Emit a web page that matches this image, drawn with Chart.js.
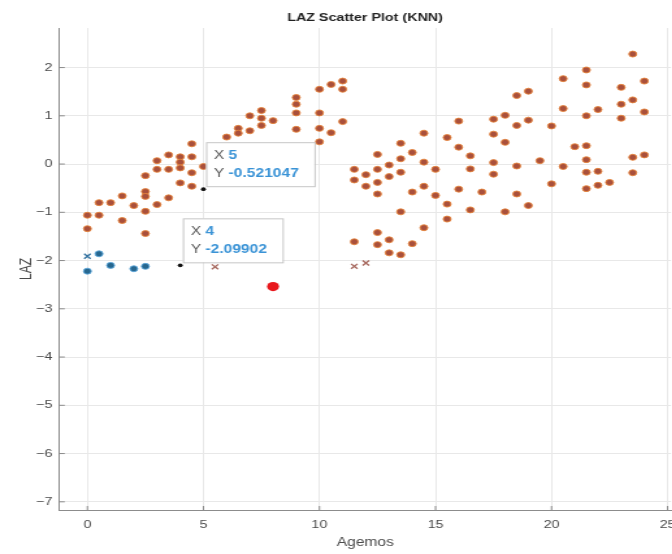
<!DOCTYPE html>
<html><head><meta charset="utf-8">
<script src="https://cdn.jsdelivr.net/npm/chart.js@4/dist/chart.umd.min.js"></script>
<style>
html,body{margin:0;padding:0;background:#fff;overflow:hidden;width:672px;height:554px}
#wrap{position:relative;width:672px;height:554px;overflow:hidden}
#c{position:absolute;left:0;top:0;transform:scaleX(1.3);transform-origin:0 0}
</style></head>
<body><div id="wrap"><canvas id="c" width="540" height="554"></canvas></div>
<script>
const xTicks=[0,5,10,15,20,25];
const yTicks=[-7,-6,-5,-4,-3,-2,-1,0,1,2];

const orangeAge=[0,0,0.5,0.5,1,1.5,1.5,2,2.5,2.5,2.5,2.5,2.5,3,3,3,3.5,3.5,3.5,4,4,4,4,4.5,4.5,4.5,4.5,5,
6,6.5,6.5,7,7,7.5,7.5,7.5,8,9,9,9,9,10,10,10,10,10.5,10.5,11,11,11,
11.5,11.5,11.5,12,12,12.5,12.5,12.5,12.5,12.5,12.5,13,13,13,13,
13.5,13.5,13.5,13.5,13.5,14,14,14,14.5,14.5,14.5,14.5,15,15,15.5,15.5,15.5,16,16,16,16.5,16.5,16.5,17,17.5,17.5,17.5,17.5,18,18,18,18.5,18.5,18.5,18.5,19,19,19,19.5,
20,20,20.5,20.5,20.5,21,21.5,21.5,21.5,21.5,21.5,21.5,21.5,22,22,22,22.5,23,23,23,23.5,23.5,23.5,23.5,24,24,24];
const orangeLAZ=[-1.06,-1.34,-0.80,-1.06,-0.80,-0.66,-1.17,-0.86,-0.24,-0.57,-0.67,-0.98,-1.44,0.07,-0.11,-0.84,0.19,-0.11,-0.70,0.15,0.04,-0.08,-0.39,0.42,0.15,-0.18,-0.46,-0.05,
0.56,0.74,0.64,0.69,1.0,1.11,0.95,0.80,0.90,1.38,1.24,1.06,0.72,1.55,1.06,0.74,0.46,1.65,0.65,1.72,1.55,0.88,
-0.11,-0.33,-1.61,-0.22,-0.46,0.20,-0.11,-0.38,-0.62,-1.42,-1.67,-0.02,-0.26,-1.57,-1.84,
0.43,0.11,-0.17,-0.99,-1.88,0.24,-0.58,-1.65,0.64,0.04,-0.46,-1.32,-0.11,-0.65,0.55,-0.83,-1.14,0.89,0.35,-0.52,0.17,-0.10,-0.95,-0.58,0.93,0.62,0.03,-0.21,1.01,0.45,-0.99,1.42,0.80,-0.04,-0.62,1.51,0.91,-0.86,0.07,
0.79,-0.41,1.77,1.15,-0.05,0.36,1.95,1.64,1.0,0.38,0.09,-0.17,-0.51,1.13,-0.15,-0.44,-0.38,1.59,1.24,0.95,2.28,1.33,0.14,-0.18,1.72,1.08,0.19];

const blueAge=[0.5,0,1,2,2.5];
const blueLAZ=[-1.86,-2.22,-2.10,-2.17,-2.12];
const blueCrossAge=[0];
const blueCrossLAZ=[-1.91];
const orangeCrossAge=[5.5,11.5,12];
const orangeCrossLAZ=[-2.13,-2.12,-2.05];
const tipAge=[5,4];
const tipLAZ=[-0.521047,-2.09902];
const tipText=['-0.521047','-2.09902'];
const testAge=[8];
const testLAZ=[-2.54];

const titleText='LAZ Scatter Plot (KNN)';
const xTitle='Agemos';
const yTitle='LAZ';

const toPts=(a,b)=>a.map((v,i)=>({x:v,y:b[i]}));
const FONT='"Liberation Sans", Arial, Helvetica, sans-serif';

const deco={
  id:'deco',
  afterDatasetsDraw(chart){
    const {ctx, chartArea:a, scales:{x,y}}=chart;
    ctx.save();
    ctx.strokeStyle='#8a8a8a'; ctx.lineWidth=1;
    ctx.beginPath();
    xTicks.forEach(v=>{const p=x.getPixelForValue(v); ctx.moveTo(p,a.bottom); ctx.lineTo(p,a.bottom-4);});
    yTicks.forEach(v=>{const p=y.getPixelForValue(v); ctx.moveTo(a.left,p); ctx.lineTo(a.left+4,p);});
    ctx.stroke();
    ctx.textBaseline='middle';
    ctx.textAlign='left';
    const labFont='12px '+FONT, valFont='bold 12px '+FONT;
    tipAge.forEach((v,i)=>{
      const px=x.getPixelForValue(v), py=y.getPixelForValue(tipLAZ[i]);
      const vals=[String(v), tipText[i]];
      ctx.font=labFont;
      const lw=ctx.measureText('Y ').width;
      ctx.font=valFont;
      const vw=Math.max(...vals.map(t=>ctx.measureText(t).width));
      const w=6+lw+vw+12, h=44;
      const bx=px+2, by=py-3-h;
      ctx.fillStyle='rgba(255,255,255,0.97)';
      ctx.fillRect(bx,by,w,h);
      ctx.strokeStyle='#c6c6c6'; ctx.lineWidth=1;
      ctx.strokeRect(bx+0.5,by+0.5,w,h);
      ['X','Y'].forEach((lab,j)=>{
        const ty=by+13.5+j*17.5;
        ctx.font=labFont; ctx.fillStyle='#5a5a5a'; ctx.fillText(lab,bx+6,ty);
        ctx.font=valFont; ctx.fillStyle='#3a93d6'; ctx.fillText(vals[j],bx+6+lw,ty);
      });
    });
    ctx.restore();
  },
  afterDraw(chart){
    const ctx=chart.ctx;
    ctx.save();
    ctx.font='bold 11px '+FONT;
    ctx.fillStyle='#222';
    ctx.textAlign='center';
    ctx.textBaseline='middle';
    ctx.fillText(titleText,280.8,17.5);
    ctx.restore();
  }
};

const tickFont={family:FONT,size:11};
new Chart(document.getElementById('c'),{
  type:'scatter',
  data:{datasets:[
    {data:toPts(orangeAge,orangeLAZ),pointRadius:3,pointBorderWidth:0.9,backgroundColor:'#a9503c',borderColor:'#e6833a'},
    {data:toPts(blueAge,blueLAZ),pointRadius:3,pointBorderWidth:0.9,backgroundColor:'#27678f',borderColor:'#5aa6da'},
    {data:toPts(blueCrossAge,blueCrossLAZ),pointStyle:'crossRot',pointRadius:3.5,pointBorderWidth:1.3,borderColor:'#2f6f9e',backgroundColor:'#2f6f9e'},
    {data:toPts(orangeCrossAge,orangeCrossLAZ),pointStyle:'crossRot',pointRadius:3.5,pointBorderWidth:1.3,borderColor:'#a4645a',backgroundColor:'#a4645a'},
    {data:toPts(tipAge,tipLAZ),pointRadius:1.9,pointBorderWidth:0,backgroundColor:'#111',borderColor:'#111'},
    {data:toPts(testAge,testLAZ),pointRadius:4.6,pointBorderWidth:0,backgroundColor:'#e8171c',borderColor:'#e8171c'}
  ]},
  options:{
    responsive:false,animation:false,events:[],
    layout:{padding:{top:28,right:23.8,left:0,bottom:0}},
    plugins:{legend:{display:false},tooltip:{enabled:false},title:{display:false}},
    scales:{
      x:{type:'linear',min:-1.2,max:25.15,
        afterBuildTicks:s=>{s.ticks=xTicks.map(v=>({value:v}));},
        afterFit:s=>{s.height=44;},
        grid:{color:'#e8e8e8',drawTicks:false},
        border:{color:'#8c8c8c',width:1},
        ticks:{padding:8,color:'#4a4a4a',font:tickFont,maxRotation:0},
        title:{display:true,text:xTitle,color:'#4a4a4a',font:{family:FONT,size:12},padding:{top:0,bottom:3.8}}
      },
      y:{type:'linear',min:-7.17,max:2.82,
        afterBuildTicks:s=>{s.ticks=yTicks.map(v=>({value:v}));},
        afterFit:s=>{s.width=45.8;},
        grid:{color:'#e8e8e8',drawTicks:false},
        border:{color:'#8c8c8c',width:1},
        ticks:{padding:5.4,color:'#4a4a4a',font:tickFont,callback:v=>v<0?'\u2212'+Math.abs(v):String(v)},
        title:{display:true,text:yTitle,color:'#4a4a4a',font:{family:FONT,size:12},padding:{top:13.6,bottom:0}}
      }
    }
  },
  plugins:[deco]
});
</script>
</body></html>
